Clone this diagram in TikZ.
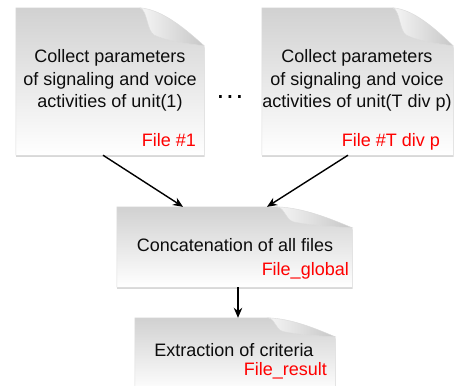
\documentclass[tikz,border=0pt]{standalone}
\usepackage{fontspec}
\setmainfont{Liberation Sans}
\usetikzlibrary{calc,arrows.meta,shadows}
\tikzset{
  frame/.style={draw=none, inner sep=0pt, minimum width=#1},
  paperbody/.style={top color=black!18, bottom color=white, draw=black!13, line width=0.4pt,
    drop shadow={opacity=0.3, shadow xshift=0.4pt, shadow yshift=-1.6pt}},
  paperflap/.style={shading=axis, shading angle=135, left color=white!96!black, right color=black!22, draw=black!15, line width=0.4pt},
  maintext/.style={font=\fontsize{18}{22.5}\selectfont, align=center, text=black!95, inner sep=0pt},
  filetext/.style={font=\fontsize{18}{22}\selectfont, text=red, inner sep=0pt, anchor=base east},
  conn/.style={line width=1.4pt, -{Stealth[length=10pt,width=8.5pt]}}
}
\newcommand\paperdoc[3]{%
  \coordinate (#1-f) at ($(#1.north east)+(-#2,0)$);
  \coordinate (#1-g) at ($(#1.north east)+(0,#3)$);
  \coordinate (#1-t) at ($(#1-f)+(0.22*#2,0.72*#3)$);
  \path[paperbody] (#1.north west) -- (#1-f)
    .. controls ($(#1-f)+(0.12*#2,0.1*#3)$) and ($(#1-f)+(0.1*#2,0.6*#3)$) .. (#1-t)
    .. controls ($(#1-f)+(0.45*#2,0.9*#3)$) and ($(#1-g)+(-0.2*#2,-0.05*#3)$) .. (#1-g)
    -- (#1.south east) -- (#1.south west) -- cycle;
  \path[paperflap] (#1-f)
    .. controls ($(#1-f)+(0.12*#2,0.1*#3)$) and ($(#1-f)+(0.1*#2,0.6*#3)$) .. (#1-t)
    .. controls ($(#1-f)+(0.45*#2,0.9*#3)$) and ($(#1-g)+(-0.2*#2,-0.05*#3)$) .. (#1-g)
    .. controls ($(#1-g)+(-0.3*#2,-0.45*#3)$) and ($(#1-f)+(0.35*#2,0.05*#3)$) .. (#1-f) -- cycle;
}
\begin{document}
\begin{tikzpicture}[x=1pt,y=-1pt]
  \useasboundingbox[fill=white] (0,0) rectangle (454,385);
  % frames
  \node[frame=188pt, minimum height=147pt] (b1) at (110,81.5) {};
  \node[frame=191pt, minimum height=147pt] (b2) at (357.5,81.5) {};
  \node[frame=235pt, minimum height=80pt] (b3) at (234.5,247) {};
  \node[frame=200pt, minimum height=74pt] (b4) at (235,355) {};
  \paperdoc{b1}{64}{38}
  \paperdoc{b2}{60}{38}
  \paperdoc{b3}{75}{21}
  \paperdoc{b4}{67}{19}
  % texts
  \node[maintext] (t1) at (110,80.5) {Collect parameters\\of signaling and voice\\activities of unit(1)};
  \node[filetext] (f1) at (196,146.5) {File \#1};
  \node[maintext] (t2) at (357,80.5) {Collect parameters\\of signaling and voice\\activities of unit(T div p)};
  \node[filetext] (f2) at (440,146.5) {File \#T div p};
  \node[maintext, anchor=base] (t3) at (235,251.7) {Concatenation of all files};
  \node[filetext] (f3) at (349,275) {File\_global};
  \node[maintext, anchor=base] (t4) at (234,356) {Extraction of criteria};
  \node[filetext] (f4) at (327,375) {File\_result};
  \node[font=\fontsize{28}{28}\selectfont, inner sep=0pt, anchor=base] (dots) at (230,98.5) {.\kern1.8pt.\kern1.8pt.};
  % connectors
  \draw[conn] ($(b1.south)+(-7,0)$) -- ($(b3.north)+(-51.5,0)$);
  \draw[conn] ($(b2.south)+(-9.5,0)$) -- ($(b3.north)+(32.5,0)$);
  \draw[conn] ($(b3.south)+(3.5,0)$) -- ($(b4.north)+(3,0)$);
\end{tikzpicture}
\end{document}
